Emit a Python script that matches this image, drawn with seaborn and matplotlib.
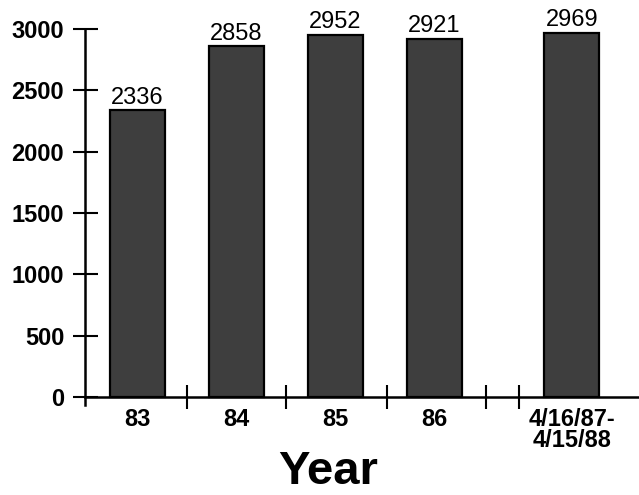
import matplotlib
matplotlib.use("Agg")
import matplotlib.pyplot as plt
from matplotlib.ticker import FixedLocator
import numpy as np
import pandas as pd
import seaborn as sns

# Annual totals
years = ["83", "84", "85", "86", "4/16/87-\n4/15/88"]
counts = [2336, 2858, 2952, 2921, 2969]
y_ticks = [0, 500, 1000, 1500, 2000, 2500, 3000]

# Horizontal layout: the last period sits a little further out, after a break
slot = [0, 1, 2, 3, 4.39]
dividers = [0.5, 1.5, 2.52, 3.52, 3.86]

sns.set_theme(style="white")
plt.rcParams["font.family"] = ["Liberation Sans", "DejaVu Sans"]
plt.rcParams["text.color"] = "black"
plt.rcParams["xtick.color"] = "black"
plt.rcParams["ytick.color"] = "black"

fig = plt.figure(figsize=(6.39, 4.95), dpi=100)
ax = fig.add_axes([85 / 639, 1 - 405 / 495, 1 - 85 / 639, (405 - 29) / 495])

df = pd.DataFrame({"slot": slot, "count": counts})
sns.barplot(data=df, x="slot", y="count", native_scale=True, width=0.56,
            color="#3e3e3e", saturation=1, edgecolor="black", linewidth=1.6,
            ax=ax)

for bar, v in zip(ax.patches, counts):
    ax.annotate(f"{v}", (bar.get_x() + bar.get_width() / 2, v),
                xytext=(0, 1), textcoords="offset points",
                ha="center", va="bottom", fontsize=17, color="black")

ax.set_xlim(-0.53, 5.07)
ax.set_ylim(-65, 3000)

for side in ("top", "right"):
    ax.spines[side].set_visible(False)
ax.spines["bottom"].set_position(("data", 0))
ax.spines["bottom"].set_linewidth(1.8)
ax.spines["left"].set_linewidth(1.8)
ax.spines["bottom"].set_color("black")
ax.spines["left"].set_color("black")

ax.set_yticks(y_ticks)
ax.set_yticklabels([str(t) for t in y_ticks], fontsize=17, fontweight="bold",
                   color="black")
ax.tick_params(axis="y", direction="inout", length=18, width=1.5,
               color="black", pad=6, left=True)

ax.xaxis.set_major_locator(FixedLocator(slot))
ax.set_xticklabels(years, fontsize=17, fontweight="bold", linespacing=0.9,
                   color="black")
ax.xaxis.set_minor_locator(FixedLocator(dividers))
ax.tick_params(axis="x", which="major", length=0, pad=8, bottom=True)
ax.tick_params(axis="x", which="minor", direction="inout", length=17,
               width=1.5, color="black", bottom=True)

ax.set_xlabel("")
ax.set_ylabel("")

fig.text(328 / 639, 0.003, "Year", ha="center", va="bottom",
         fontsize=34, fontweight="bold", color="black")

fig.savefig("out.png", dpi=100)
